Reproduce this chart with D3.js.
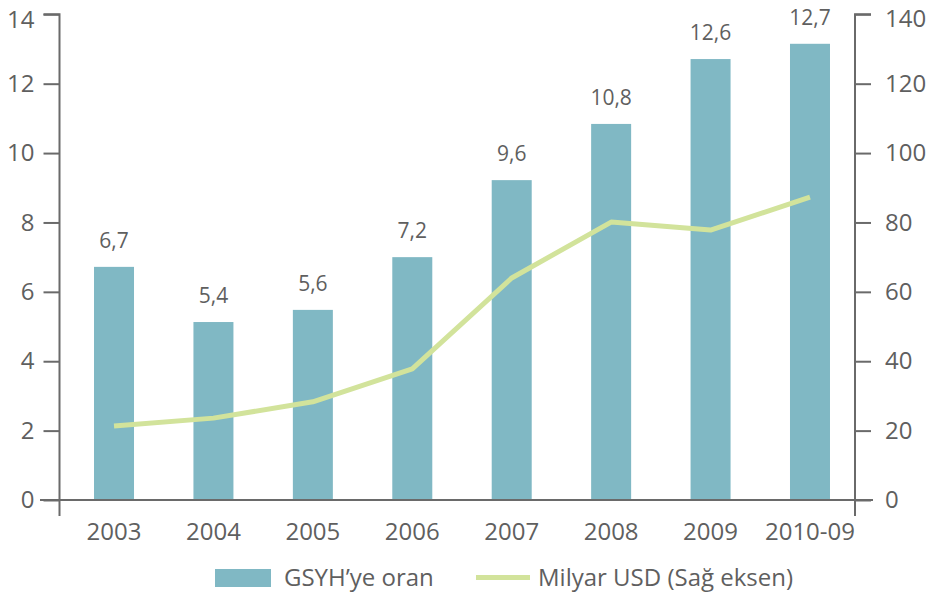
<!DOCTYPE html>
<html><head><meta charset="utf-8">
<script src="https://cdn.jsdelivr.net/npm/d3@7"></script>
<style>body{margin:0;background:#fff}svg{display:block}text{font-family:"Open Sans",sans-serif;fill:#5f5f5f}</style>
</head><body><svg id="c" width="926" height="597"></svg>
<script>
const categories = ["2003","2004","2005","2006","2007","2008","2009","2010-09"];
const gdpShare = [6.72,5.13,5.48,7.0,9.22,10.84,12.71,13.15];
const gdpLabels = ["6,7","5,4","5,6","7,2","9,6","10,8","12,6","12,7"];
const usdBillion = [21.3,23.6,28.3,37.8,64.0,80.1,77.8,87.3];
const leftTicks = [0,2,4,6,8,10,12,14];
const rightTicks = [0,20,40,60,80,100,120,140];
const legendLabels = ["GSYH\u2019ye oran","Milyar USD (Sa\u011F eksen)"];

const svg = d3.select("#c");
const axisColor = "#6a6a6a", barColor = "#80b8c4", lineColor = "#d2e39b";
const x = d3.scaleBand().domain(categories).range([64.3, 859.7]).paddingInner(0.6).paddingOuter(0.3);
const yL = d3.scaleLinear().domain([0,14]).range([500,14.3]);
const yR = d3.scaleLinear().domain([0,140]).range([500,14.3]);
const bw = 40;
const cx = c => x(c) + x.bandwidth()/2;

// bars
svg.append("g").selectAll("rect").data(categories).join("rect")
  .attr("x", c => cx(c) - bw/2).attr("width", bw)
  .attr("y", (c,i) => yL(gdpShare[i])).attr("height", (c,i) => yL(0) - yL(gdpShare[i]))
  .attr("fill", barColor);

// value labels
svg.append("g").selectAll("text").data(categories).join("text")
  .attr("x", c => cx(c)).attr("y", (c,i) => yL(gdpShare[i]) - 19)
  .attr("text-anchor","middle").style("font-size","21px").text((c,i) => gdpLabels[i]);

// line
svg.append("path").datum(categories)
  .attr("d", d3.line().x(c => cx(c)).y((c,i) => yR(usdBillion[i])))
  .attr("fill","none").attr("stroke", lineColor).attr("stroke-width",5).attr("stroke-linejoin","round");

// left axis
const gL = svg.append("g").attr("transform","translate(59.5,0)")
  .call(d3.axisLeft(yL).tickValues(leftTicks).tickSize(16).tickPadding(9).tickFormat(d3.format("d")));
gL.select(".domain").attr("d","M-16,14.3H0V516");
// right axis
const gR = svg.append("g").attr("transform","translate(855,0)")
  .call(d3.axisRight(yR).tickValues(rightTicks).tickSize(16).tickPadding(14).tickFormat(d3.format("d")));
gR.select(".domain").attr("d","M16,14.3H0V516");
[gL,gR].forEach(g=>{
  g.selectAll(".domain,line").attr("stroke",axisColor).attr("stroke-width",2);
  g.selectAll("text").style("font-size","24px").attr("fill","#5f5f5f").style("font-family","'Open Sans',sans-serif");
});
// keep the top labels inside the picture
gL.selectAll(".tick text").filter(d => d === 14).attr("dy","0.55em");
gR.selectAll(".tick text").filter(d => d === 140).attr("dy","0.5em");
// x baseline
svg.append("line").attr("x1",40).attr("x2",873).attr("y1",500).attr("y2",500).attr("stroke",axisColor).attr("stroke-width",2);
// x labels
svg.append("g").selectAll("text").data(categories).join("text")
  .attr("x", c => cx(c)).attr("y",540).attr("text-anchor","middle").style("font-size","24px").text(c=>c);

// legend
svg.append("rect").attr("x",215).attr("y",569).attr("width",56).attr("height",18).attr("fill",barColor);
svg.append("text").attr("x",284).attr("y",586).style("font-size","24px").text(legendLabels[0]);
svg.append("line").attr("x1",476).attr("x2",530).attr("y1",577.5).attr("y2",577.5).attr("stroke",lineColor).attr("stroke-width",5);
svg.append("text").attr("x",538).attr("y",586).style("font-size","24px").text(legendLabels[1]);
</script></body></html>
